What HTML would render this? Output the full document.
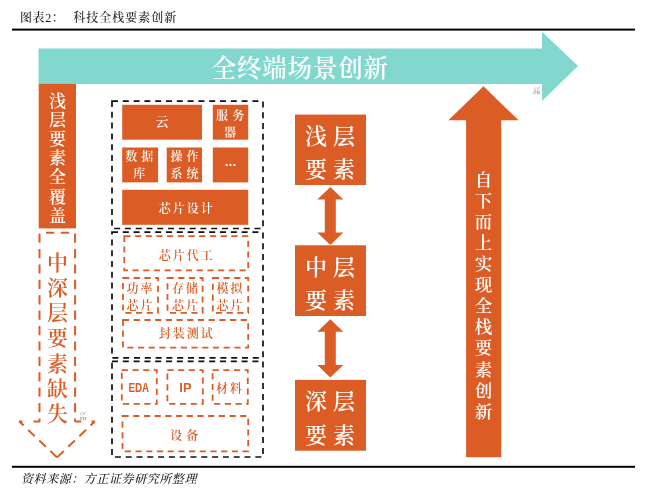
<!DOCTYPE html>
<html lang="zh-CN"><head><meta charset="utf-8"><title>科技全栈要素创新</title>
<style>html,body{margin:0;padding:0;background:#fff;}body{width:646px;height:494px;overflow:hidden;}svg{display:block;}</style>
</head><body>
<svg width="646" height="494" viewBox="0 0 646 494" style="will-change:transform">
<rect width="646" height="494" fill="#fff"/>
<rect x="12" y="28.6" width="623" height="2.0" fill="#000"/>
<rect x="12" y="465.8" width="623" height="2.0" fill="#000"/>
<text x="20" y="18.2" font-size="12" fill="#222" font-weight="500" text-anchor="start" dominant-baseline="central" letter-spacing="0.6" font-family='"Liberation Serif","Noto Serif CJK SC",serif'>图表2：</text>
<text x="73.3" y="18.2" font-size="12" fill="#222" font-weight="500" text-anchor="start" dominant-baseline="central" letter-spacing="1.0" font-family='"Liberation Serif","Noto Serif CJK SC",serif'>科技全栈要素创新</text>
<text x="21" y="478.7" font-size="12" fill="#222" font-weight="500" text-anchor="start" dominant-baseline="central" letter-spacing="0.57" font-style="italic" font-family='"Liberation Serif","Noto Serif CJK SC",serif'>资料来源：方正证券研究所整理</text>
<polygon points="38.5,48.5 542,48.5 542,31.7 578,66 542,101 542,83.9 38.5,83.9" fill="#82D8CF"/>
<text x="223.9 249.2 274.5 299.8 325.1 350.4 375.7" y="68.5" font-size="24.5" fill="#fff" font-weight="600" text-anchor="middle" dominant-baseline="central" font-family='"Liberation Serif","Noto Serif CJK SC",serif'>全终端场景创新</text>
<rect x="38.7" y="83.9" width="37.3" height="144.5" fill="#DC5C25"/>
<text x="57.4 57.4 57.4 57.4 57.4 57.4 57.4" y="101.0 120.2 139.4 158.6 177.8 197.0 216.2" font-size="17" fill="#fff" font-weight="600" text-anchor="middle" dominant-baseline="central" font-family='"Liberation Serif","Noto Serif CJK SC",serif'>浅层要素全覆盖</text>
<g fill="none" stroke="#DC5C25" stroke-width="2" stroke-linejoin="bevel" stroke-dasharray="9.2 6.2"><path d="M33.4,421.5 H39.5 V232.7"/><path d="M81.2,421.5 H75.1 V232.7"/><path d="M57.1,457.4 L19.3,421.5 H27.3"/><path d="M57.1,457.4 L94.8,421.5 H86.8"/><path d="M46,232.7 H54.3 M60.8,232.7 H69.2" stroke-dasharray="none"/></g>
<text x="57.4 57.4 57.4 57.4 57.4 57.4 57.4" y="262.7 287.9 313.1 338.3 363.5 388.7 413.9" font-size="21" fill="#DC5C25" font-weight="600" text-anchor="middle" dominant-baseline="central" font-family='"Liberation Serif","Noto Serif CJK SC",serif'>中深层要素缺失</text>
<rect x="112" y="101.2" width="151" height="127.3" fill="none" stroke="#111" stroke-width="1.7" stroke-dasharray="6 4.8"/>
<rect x="112" y="232.2" width="151" height="125.6" fill="none" stroke="#111" stroke-width="1.7" stroke-dasharray="6 4.8"/>
<rect x="112" y="361.3" width="151" height="95.7" fill="none" stroke="#111" stroke-width="1.7" stroke-dasharray="6 4.8"/>
<rect x="122.2" y="104.8" width="79.8" height="34.9" fill="#DC5C25"/>
<text x="162.0" y="121.7" font-size="13" fill="#fff" font-weight="600" text-anchor="middle" dominant-baseline="central" font-family='"Liberation Serif","Noto Serif CJK SC",serif'>云</text>
<rect x="212.8" y="104.8" width="35.4" height="34.9" fill="#DC5C25"/>
<text x="221.9 238.3" y="116.2" font-size="12" fill="#fff" font-weight="600" text-anchor="middle" dominant-baseline="central" font-family='"Liberation Serif","Noto Serif CJK SC",serif'>服务</text>
<text x="230.1" y="132.5" font-size="12" fill="#fff" font-weight="600" text-anchor="middle" dominant-baseline="central" font-family='"Liberation Serif","Noto Serif CJK SC",serif'>器</text>
<rect x="122.2" y="147.5" width="35.9" height="34.9" fill="#DC5C25"/>
<text x="131.2 147.2" y="157.3" font-size="12" fill="#fff" font-weight="600" text-anchor="middle" dominant-baseline="central" font-family='"Liberation Serif","Noto Serif CJK SC",serif'>数据</text>
<text x="139.2" y="174.3" font-size="12" fill="#fff" font-weight="600" text-anchor="middle" dominant-baseline="central" font-family='"Liberation Serif","Noto Serif CJK SC",serif'>库</text>
<rect x="166.7" y="147.5" width="35.3" height="34.9" fill="#DC5C25"/>
<text x="176.4 192.4" y="157.3" font-size="12" fill="#fff" font-weight="600" text-anchor="middle" dominant-baseline="central" font-family='"Liberation Serif","Noto Serif CJK SC",serif'>操作</text>
<text x="176.4 192.4" y="174.3" font-size="12" fill="#fff" font-weight="600" text-anchor="middle" dominant-baseline="central" font-family='"Liberation Serif","Noto Serif CJK SC",serif'>系统</text>
<rect x="212.8" y="147.5" width="35.4" height="34.9" fill="#DC5C25"/>
<text x="230.4" y="162.2" font-size="12" fill="#fff" font-weight="700" text-anchor="middle" dominant-baseline="central" font-family='"Liberation Sans","Noto Sans CJK SC",sans-serif'>…</text>
<rect x="122.2" y="189.8" width="126.0" height="35.0" fill="#DC5C25"/>
<text x="164.7 178.7 192.7 206.7" y="209.2" font-size="12" fill="#fff" font-weight="600" text-anchor="middle" dominant-baseline="central" font-family='"Liberation Serif","Noto Serif CJK SC",serif'>芯片设计</text>
<rect x="124.3" y="236.2" width="123.9" height="34.1" fill="none" stroke="#DC5C25" stroke-width="1.8" stroke-dasharray="6.2 4.5"/>
<text x="164.8 178.8 192.8 206.8" y="255.7" font-size="12" fill="#DC5C25" font-weight="600" text-anchor="middle" dominant-baseline="central" font-family='"Liberation Serif","Noto Serif CJK SC",serif'>芯片代工</text>
<rect x="123" y="278" width="35" height="34.8" fill="none" stroke="#DC5C25" stroke-width="1.8" stroke-dasharray="6.2 4.5"/>
<text x="132.5 146.5" y="289.1" font-size="12" fill="#DC5C25" font-weight="600" text-anchor="middle" dominant-baseline="central" font-family='"Liberation Serif","Noto Serif CJK SC",serif'>功率</text>
<text x="132.5 146.5" y="306.1" font-size="12" fill="#DC5C25" font-weight="600" text-anchor="middle" dominant-baseline="central" font-family='"Liberation Serif","Noto Serif CJK SC",serif'>芯片</text>
<rect x="167.5" y="278" width="35.1" height="34.8" fill="none" stroke="#DC5C25" stroke-width="1.8" stroke-dasharray="6.2 4.5"/>
<text x="178.0 192.0" y="289.1" font-size="12" fill="#DC5C25" font-weight="600" text-anchor="middle" dominant-baseline="central" font-family='"Liberation Serif","Noto Serif CJK SC",serif'>存储</text>
<text x="178.0 192.0" y="306.1" font-size="12" fill="#DC5C25" font-weight="600" text-anchor="middle" dominant-baseline="central" font-family='"Liberation Serif","Noto Serif CJK SC",serif'>芯片</text>
<rect x="212.8" y="278" width="35.4" height="34.8" fill="none" stroke="#DC5C25" stroke-width="1.8" stroke-dasharray="6.2 4.5"/>
<text x="222.5 236.5" y="289.1" font-size="12" fill="#DC5C25" font-weight="600" text-anchor="middle" dominant-baseline="central" font-family='"Liberation Serif","Noto Serif CJK SC",serif'>模拟</text>
<text x="222.5 236.5" y="306.1" font-size="12" fill="#DC5C25" font-weight="600" text-anchor="middle" dominant-baseline="central" font-family='"Liberation Serif","Noto Serif CJK SC",serif'>芯片</text>
<rect x="123" y="320" width="125.2" height="27.6" fill="none" stroke="#DC5C25" stroke-width="1.8" stroke-dasharray="6.2 4.5"/>
<text x="164.7 178.7 192.7 206.7" y="334.0" font-size="12" fill="#DC5C25" font-weight="600" text-anchor="middle" dominant-baseline="central" font-family='"Liberation Serif","Noto Serif CJK SC",serif'>封装测试</text>
<rect x="121.8" y="370.2" width="35.0" height="33.6" fill="none" stroke="#DC5C25" stroke-width="1.8" stroke-dasharray="6.2 4.5"/>
<text x="138.8" y="387.6" font-size="13.5" fill="#DC5C25" font-weight="700" text-anchor="middle" dominant-baseline="central" textLength="20.8" lengthAdjust="spacingAndGlyphs" font-family='"Liberation Sans","Noto Sans CJK SC",sans-serif'>EDA</text>
<rect x="167.4" y="370.2" width="35.4" height="33.6" fill="none" stroke="#DC5C25" stroke-width="1.8" stroke-dasharray="6.2 4.5"/>
<text x="185.4" y="387.6" font-size="13.5" fill="#DC5C25" font-weight="700" text-anchor="middle" dominant-baseline="central" textLength="12.2" lengthAdjust="spacingAndGlyphs" font-family='"Liberation Sans","Noto Sans CJK SC",sans-serif'>IP</text>
<rect x="212.6" y="370.2" width="35.2" height="33.6" fill="none" stroke="#DC5C25" stroke-width="1.8" stroke-dasharray="6.2 4.5"/>
<text x="222.0 236.0" y="388.7" font-size="12" fill="#DC5C25" font-weight="600" text-anchor="middle" dominant-baseline="central" font-family='"Liberation Serif","Noto Serif CJK SC",serif'>材料</text>
<rect x="122.5" y="416" width="125.7" height="35.3" fill="none" stroke="#DC5C25" stroke-width="1.8" stroke-dasharray="6.2 4.5"/>
<text x="176.3 192.3" y="435.6" font-size="12" fill="#DC5C25" font-weight="600" text-anchor="middle" dominant-baseline="central" font-family='"Liberation Serif","Noto Serif CJK SC",serif'>设备</text>
<rect x="295" y="114.6" width="71" height="70.4" fill="#DC5C25"/>
<text x="316.0 344.0" y="136.5" font-size="22" fill="#fff" font-weight="600" text-anchor="middle" dominant-baseline="central" font-family='"Liberation Serif","Noto Serif CJK SC",serif'>浅层</text>
<text x="316.0 344.0" y="169.8" font-size="22" fill="#fff" font-weight="600" text-anchor="middle" dominant-baseline="central" font-family='"Liberation Serif","Noto Serif CJK SC",serif'>要素</text>
<rect x="295" y="245.3" width="71" height="70.7" fill="#DC5C25"/>
<text x="316.0 344.0" y="267.2" font-size="22" fill="#fff" font-weight="600" text-anchor="middle" dominant-baseline="central" font-family='"Liberation Serif","Noto Serif CJK SC",serif'>中层</text>
<text x="316.0 344.0" y="300.5" font-size="22" fill="#fff" font-weight="600" text-anchor="middle" dominant-baseline="central" font-family='"Liberation Serif","Noto Serif CJK SC",serif'>要素</text>
<rect x="295" y="379.9" width="71" height="70.8" fill="#DC5C25"/>
<text x="316.0 344.0" y="401.8" font-size="22" fill="#fff" font-weight="600" text-anchor="middle" dominant-baseline="central" font-family='"Liberation Serif","Noto Serif CJK SC",serif'>深层</text>
<text x="316.0 344.0" y="435.1" font-size="22" fill="#fff" font-weight="600" text-anchor="middle" dominant-baseline="central" font-family='"Liberation Serif","Noto Serif CJK SC",serif'>要素</text>
<polygon points="330.3,187 343.3,199.5 335.8,199.5 335.8,232.5 343.3,232.5 330.3,245 317.3,232.5 324.8,232.5 324.8,199.5 317.3,199.5" fill="#DC5C25"/>
<polygon points="330.3,319.2 343.3,331.7 335.8,331.7 335.8,365.1 343.3,365.1 330.3,377.6 317.3,365.1 324.8,365.1 324.8,331.7 317.3,331.7" fill="#DC5C25"/>
<polygon points="483.5,86.2 518.6,120.3 501.2,120.3 501.2,457.2 466.1,457.2 466.1,120.3 448.4,120.3" fill="#DC5C25"/>
<text x="483.6 483.6 483.6 483.6 483.6 483.6 483.6 483.6 483.6 483.6 483.6 483.6" y="179.9 200.97 222.04 243.11 264.18 285.25 306.32 327.39 348.46 369.53 390.6 411.67" font-size="17.5" fill="#fff" font-weight="600" text-anchor="middle" dominant-baseline="central" font-family='"Liberation Serif","Noto Serif CJK SC",serif'>自下而上实现全栈要素创新</text>
<text x="83" y="414.3" font-size="3.4" fill="#444" font-weight="400" text-anchor="middle" dominant-baseline="central" font-family='"Liberation Serif","Noto Serif CJK SC",serif'>方正</text>
<text x="83" y="418.5" font-size="3.4" fill="#444" font-weight="400" text-anchor="middle" dominant-baseline="central" font-family='"Liberation Serif","Noto Serif CJK SC",serif'>授权</text>
<text x="536.7" y="88.7" font-size="3.4" fill="#444" font-weight="400" text-anchor="middle" dominant-baseline="central" font-family='"Liberation Serif","Noto Serif CJK SC",serif'>方正</text>
<text x="536.7" y="92.9" font-size="3.4" fill="#444" font-weight="400" text-anchor="middle" dominant-baseline="central" font-family='"Liberation Serif","Noto Serif CJK SC",serif'>授权</text>
</svg>
</body></html>
